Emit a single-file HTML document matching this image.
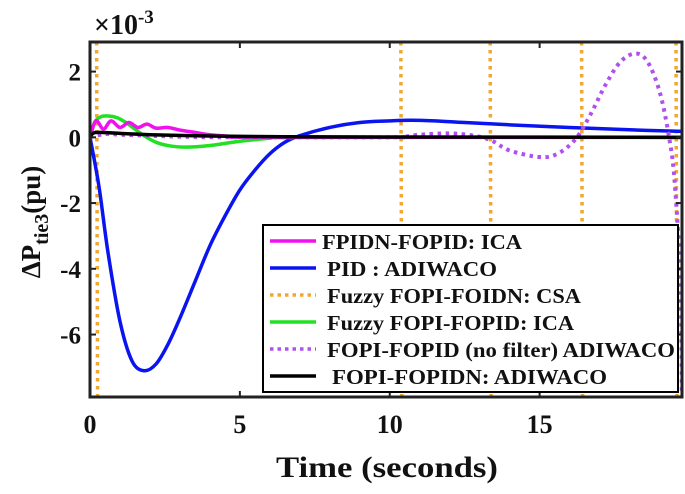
<!DOCTYPE html>
<html><head><meta charset="utf-8"><style>
body{margin:0;background:#fff;}
svg text{font-family:"Liberation Serif",serif;font-weight:bold;fill:#111;}
</style></head><body>
<svg id="chart" width="685" height="489" xmlns="http://www.w3.org/2000/svg">
<rect x="90" y="42" width="592" height="355" fill="#fff"/>
<g id="series" clip-path="url(#clip)"></g>
<defs><clipPath id="clip"><rect x="90" y="42" width="592" height="355"/></clipPath></defs>
<g id="axes"></g>
<text x="94" y="34" font-size="28">×10<tspan dy="-11" font-size="19">-3</tspan></text>
<text x="387" y="477" font-size="30" text-anchor="middle" textLength="222" lengthAdjust="spacingAndGlyphs">Time (seconds)</text>
<text transform="translate(40,222) rotate(-90)" font-size="27" text-anchor="middle">ΔP<tspan dy="8" font-size="20">tie3</tspan><tspan dy="-8">(pu)</tspan></text>
<g id="legend"></g>
</svg>
<script>
const xTicks=[0,5,10,15];
const yTicks=[2,0,-2,-4,-6];
const blueT=[0,0.3,0.6,1,1.4,1.8,2.2,2.6,3,3.5,4,4.5,5,5.5,6,6.5,7,8,9,10,10.7,11.5,12.5,14,16,18,19.75];
const blueV=[0,-1.5,-3.5,-5.6,-6.8,-7.1,-6.9,-6.3,-5.5,-4.4,-3.3,-2.4,-1.6,-1.0,-0.5,-0.15,0.05,0.3,0.45,0.5,0.52,0.5,0.45,0.38,0.3,0.23,0.18];
const greenT=[0,0.15,0.35,0.6,0.9,1.2,1.5,1.8,2.2,2.6,3.2,4,5,6,7,19.75];
const greenV=[0,0.45,0.62,0.65,0.6,0.45,0.25,0.05,-0.15,-0.25,-0.3,-0.25,-0.12,-0.03,0,0];
const magT=[0,0.2,0.45,0.7,1.0,1.3,1.6,1.9,2.2,2.6,3,3.5,4,5,6,19.75];
const magV=[0,0.5,0.25,0.5,0.3,0.45,0.3,0.4,0.28,0.3,0.22,0.15,0.08,0.02,0,0];
const blackT=[0,0.1,0.3,1,2,4,6,10,19.75];
const blackV=[0,0.12,0.15,0.12,0.08,0.04,0.02,0.01,0];
const purpT=[0,0.5,1,2,3,5,10,10.5,11,12,12.8,13.4,14,15,15.6,16.2,16.7,17.2,17.7,18.2,18.6,19,19.3,19.5,19.7,19.75];
const purpV=[0,0.1,0.08,0.05,0.02,0,0,0.02,0.08,0.12,0.05,-0.1,-0.4,-0.6,-0.5,-0.05,0.7,1.6,2.3,2.55,2.3,1.4,0.1,-1.3,-4.5,-8.5];
const spikeT=[0.22,10.37,13.35,16.4,19.55];
const legendLabels=["FPIDN-FOPID: ICA","PID : ADIWACO","Fuzzy FOPI-FOIDN: CSA","Fuzzy FOPI-FOPID: ICA","FOPI-FOPID (no filter) ADIWACO","FOPI-FOPIDN: ADIWACO"];

const X0=0,X1=19.75,Y0=-7.9,Y1=2.9,L=90,R=682,T=42,B=397;
const sx=t=>L+(t-X0)/(X1-X0)*(R-L);
const sy=v=>T+(Y1-v)/(Y1-Y0)*(B-T);
const NS="http://www.w3.org/2000/svg";
function mk(tag,attrs,parent){const e=document.createElementNS(NS,tag);for(const k in attrs)e.setAttribute(k,attrs[k]);parent.appendChild(e);return e;}
function smooth(ts,vs){const p=ts.map((t,i)=>[sx(t),sy(vs[i])]);let d="M"+p[0][0]+","+p[0][1];
 for(let i=0;i<p.length-1;i++){const a=p[Math.max(i-1,0)],b=p[i],c=p[i+1],e=p[Math.min(i+2,p.length-1)];
 d+=" C"+(b[0]+(c[0]-a[0])/6)+","+(b[1]+(c[1]-a[1])/6)+" "+(c[0]-(e[0]-b[0])/6)+","+(c[1]-(e[1]-b[1])/6)+" "+c[0]+","+c[1];}return d;}
const sg=document.getElementById("series");
spikeT.forEach((t,i)=>{const l=mk("line",{x1:sx(t),y1:T,x2:sx(t)+1,y2:B,stroke:"#f0a830","stroke-width":3.5,"stroke-dasharray":"3.5 4.5"},sg);

});
const ser=[[blueT,blueV,"#0a14f0","blue-series",""],[greenT,greenV,"#22e022","green-series",""],[magT,magV,"#f010f0","magenta-series",""],[purpT,purpV,"#b050f0","purple-series","3.5 4.5"],[blackT,blackV,"#000","black-series",""]];
ser.forEach(s=>{const p=mk("path",{d:smooth(s[0],s[1]),fill:"none",stroke:s[2],"stroke-width":s[4]?4:3.5,"stroke-dasharray":s[4]},sg);

});
const ax=document.getElementById("axes");
const fr=mk("rect",{x:L,y:T,width:R-L,height:B-T,fill:"none",stroke:"#222","stroke-width":3},ax);


xTicks.forEach(t=>{mk("line",{x1:sx(t),y1:B,x2:sx(t),y2:B-6,stroke:"#222","stroke-width":2},ax);mk("line",{x1:sx(t),y1:T,x2:sx(t),y2:T+6,stroke:"#222","stroke-width":2},ax);
const tx=mk("text",{x:sx(t),y:B+36,"font-size":26,"text-anchor":"middle"},ax);tx.textContent=t;

});
yTicks.forEach(v=>{mk("line",{x1:L,y1:sy(v),x2:L+6,y2:sy(v),stroke:"#222","stroke-width":2},ax);mk("line",{x1:R,y1:sy(v),x2:R-6,y2:sy(v),stroke:"#222","stroke-width":2},ax);
const tx=mk("text",{x:L-9,y:sy(v)+9,"font-size":25,"text-anchor":"end"},ax);tx.textContent=v;

});
const lg=document.getElementById("legend");
const box=mk("rect",{x:263,y:225,width:415,height:167,fill:"#fff",stroke:"#000","stroke-width":2},lg);


const lc=["#f010f0","#0a14f0","#f0a830","#22e022","#b050f0","#000"];
const ld=["","","3.5 4","","3.5 4",""];
const lx=[322,327,327,327,327,332];
const lw=[200,170,254,247,348,275];
legendLabels.forEach((s,i)=>{const y=241+i*27;
const ln=mk("line",{x1:270,y1:y,x2:316,y2:y,stroke:lc[i],"stroke-width":3.5,"stroke-dasharray":ld[i]},lg);


const tx=mk("text",{x:lx[i],y:y+8,"font-size":21,textLength:lw[i],lengthAdjust:"spacingAndGlyphs"},lg);tx.textContent=s;

});
</script>
</body></html>
